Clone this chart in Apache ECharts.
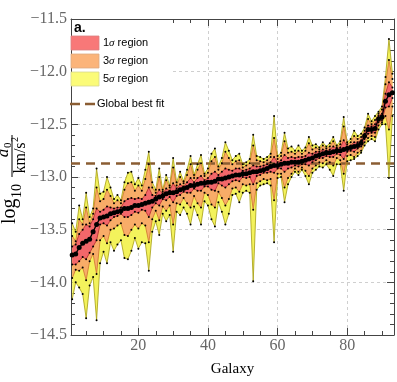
<!DOCTYPE html>
<html>
<head>
<meta charset="utf-8">
<script src="https://cdn.jsdelivr.net/npm/echarts@6/dist/echarts.min.js"></script>
<style>
  html, body { margin: 0; padding: 0; background: #fff; }
  #chart { width: 397px; height: 382px; }
</style>
</head>
<body>
<div id="chart"></div>
<script>
// best-fit a0 per galaxy (log10, km/s^2)
const center = [
  -13.74, -13.73, -13.67, -13.63, -13.61, -13.59, -13.52, -13.45, -13.39, -13.38,
  -13.37, -13.35, -13.34, -13.33, -13.32, -13.30, -13.30, -13.29, -13.27, -13.27,
  -13.26, -13.25, -13.24, -13.23, -13.21, -13.19, -13.18, -13.16, -13.15, -13.15,
  -13.14, -13.12, -13.11, -13.10, -13.08, -13.08, -13.07, -13.06, -13.06, -13.05,
  -13.05, -13.04, -13.02, -13.02, -13.01, -13.00, -12.99, -12.98, -12.98, -12.97,
  -12.97, -12.96, -12.95, -12.95, -12.94, -12.93, -12.92, -12.90, -12.89, -12.89,
  -12.88, -12.87, -12.87, -12.86, -12.86, -12.86, -12.85, -12.84, -12.83, -12.82,
  -12.80, -12.79, -12.78, -12.77, -12.77, -12.76, -12.75, -12.75, -12.74, -12.73,
  -12.72, -12.71, -12.70, -12.68, -12.61, -12.55, -12.55, -12.54, -12.45, -12.43,
  -12.28, -12.22, -12.20
]
// 5 sigma upper / lower
const hi5 = [
  -13.44, -13.52, -13.27, -13.40, -13.15, -13.38, -13.30, -12.92, -13.16, -13.14,
  -13.00, -13.10, -13.21, -13.17, -13.22, -13.05, -12.96, -12.95, -13.07, -13.01,
  -13.08, -12.93, -12.76, -13.05, -13.12, -12.92, -13.12, -12.98, -13.08, -12.82,
  -13.05, -12.95, -13.04, -12.93, -12.80, -12.98, -12.88, -12.79, -12.97, -12.92,
  -12.78, -12.73, -12.90, -12.82, -12.67, -12.75, -12.84, -12.80, -12.78, -12.88,
  -12.86, -12.83, -12.60, -12.80, -12.81, -12.83, -12.81, -12.78, -12.42, -12.80,
  -12.77, -12.58, -12.73, -12.71, -12.75, -12.70, -12.75, -12.72, -12.62, -12.70,
  -12.69, -12.72, -12.67, -12.71, -12.68, -12.62, -12.70, -12.66, -12.43, -12.67,
  -12.64, -12.56, -12.61, -12.59, -12.53, -12.40, -12.47, -12.42, -12.38, -12.33,
  -12.05, -11.69, -12.02
]
const lo5 = [
  -14.16, -14.00, -14.05, -14.11, -14.34, -14.03, -13.95, -14.36, -13.82, -13.71,
  -13.82, -13.62, -13.70, -13.64, -13.60, -13.77, -13.78, -13.70, -13.58, -13.68,
  -13.62, -13.63, -13.89, -13.52, -13.42, -13.55, -13.35, -13.42, -13.36, -13.71,
  -13.33, -13.36, -13.29, -13.35, -13.45, -13.28, -13.36, -13.45, -13.23, -13.27,
  -13.40, -13.47, -13.24, -13.33, -13.45, -13.35, -13.17, -13.16, -13.24, -13.15,
  -13.13, -13.15, -13.99, -13.12, -13.08, -13.07, -13.06, -13.08, -13.62, -13.01,
  -13.00, -13.24, -13.07, -13.00, -12.95, -12.98, -12.93, -12.99, -13.07, -12.96,
  -12.93, -12.90, -12.91, -12.88, -12.93, -12.99, -12.88, -12.88, -13.13, -12.85,
  -12.84, -12.83, -12.80, -12.77, -12.70, -12.66, -12.64, -12.66, -12.55, -12.50,
  -12.50, -13.01, -12.42
]
// 3 sigma upper / lower
const hi3 = [
  -13.56, -13.61, -13.40, -13.45, -13.29, -13.44, -13.35, -13.10, -13.23, -13.21,
  -13.12, -13.18, -13.25, -13.22, -13.25, -13.12, -13.06, -13.05, -13.13, -13.08,
  -13.13, -13.02, -12.88, -13.10, -13.15, -13.00, -13.14, -13.03, -13.10, -12.91,
  -13.08, -13.00, -13.06, -12.98, -12.88, -13.01, -12.93, -12.87, -12.99, -12.96,
  -12.85, -12.81, -12.93, -12.87, -12.76, -12.82, -12.88, -12.85, -12.84, -12.91,
  -12.89, -12.87, -12.70, -12.84, -12.85, -12.86, -12.84, -12.81, -12.63, -12.83,
  -12.80, -12.66, -12.77, -12.76, -12.78, -12.75, -12.78, -12.75, -12.68, -12.74,
  -12.72, -12.74, -12.70, -12.73, -12.71, -12.66, -12.72, -12.69, -12.52, -12.69,
  -12.67, -12.61, -12.64, -12.62, -12.56, -12.45, -12.50, -12.46, -12.40, -12.36,
  -12.12, -11.89, -12.07
]
const lo3 = [
  -13.96, -13.88, -13.89, -13.86, -13.98, -13.80, -13.73, -13.92, -13.60, -13.56,
  -13.63, -13.50, -13.49, -13.46, -13.44, -13.55, -13.56, -13.50, -13.45, -13.49,
  -13.44, -13.46, -13.62, -13.40, -13.32, -13.41, -13.28, -13.32, -13.27, -13.45,
  -13.25, -13.26, -13.20, -13.25, -13.29, -13.18, -13.25, -13.29, -13.15, -13.17,
  -13.26, -13.29, -13.14, -13.20, -13.27, -13.21, -13.11, -13.10, -13.14, -13.07,
  -13.08, -13.07, -13.31, -13.06, -13.04, -13.02, -13.03, -13.02, -13.22, -12.97,
  -12.97, -13.10, -13.01, -12.97, -12.92, -12.95, -12.91, -12.94, -12.99, -12.92,
  -12.89, -12.86, -12.87, -12.84, -12.86, -12.89, -12.82, -12.84, -12.97, -12.80,
  -12.79, -12.81, -12.77, -12.75, -12.67, -12.63, -12.61, -12.62, -12.51, -12.48,
  -12.42, -12.55, -12.33
]
// 1 sigma upper / lower
const hi1 = [
  -13.66, -13.64, -13.54, -13.50, -13.45, -13.47, -13.40, -13.30, -13.33, -13.31,
  -13.28, -13.29, -13.30, -13.29, -13.29, -13.23, -13.21, -13.20, -13.21, -13.20,
  -13.21, -13.17, -13.10, -13.17, -13.18, -13.12, -13.16, -13.11, -13.13, -13.06,
  -13.11, -13.07, -13.09, -13.05, -13.01, -13.05, -13.01, -12.99, -13.03, -13.01,
  -12.97, -12.95, -12.98, -12.95, -12.92, -12.93, -12.94, -12.92, -12.92, -12.94,
  -12.93, -12.92, -12.89, -12.90, -12.90, -12.89, -12.88, -12.86, -12.81, -12.86,
  -12.84, -12.79, -12.82, -12.81, -12.82, -12.81, -12.81, -12.80, -12.77, -12.78,
  -12.76, -12.76, -12.74, -12.75, -12.74, -12.71, -12.73, -12.72, -12.65, -12.71,
  -12.70, -12.67, -12.67, -12.65, -12.59, -12.51, -12.52, -12.50, -12.42, -12.40,
  -12.21, -12.10, -12.15
]
const lo1 = [
  -13.83, -13.83, -13.80, -13.76, -13.78, -13.72, -13.66, -13.60, -13.45, -13.44,
  -13.46, -13.41, -13.38, -13.37, -13.35, -13.38, -13.38, -13.36, -13.33, -13.34,
  -13.31, -13.32, -13.38, -13.29, -13.25, -13.27, -13.21, -13.22, -13.19, -13.24,
  -13.18, -13.17, -13.14, -13.15, -13.15, -13.11, -13.13, -13.13, -13.09, -13.09,
  -13.12, -13.13, -13.06, -13.08, -13.10, -13.07, -13.04, -13.03, -13.04, -13.00,
  -13.01, -13.00, -13.07, -12.99, -12.98, -12.96, -12.96, -12.95, -12.96, -12.92,
  -12.92, -12.95, -12.92, -12.91, -12.89, -12.90, -12.88, -12.88, -12.89, -12.86,
  -12.84, -12.82, -12.82, -12.80, -12.81, -12.81, -12.78, -12.79, -12.83, -12.76,
  -12.75, -12.76, -12.73, -12.71, -12.64, -12.59, -12.58, -12.58, -12.48, -12.46,
  -12.34, -12.33, -12.25
]
const globalBestFit = -12.865

const xMajorTicks = [20, 40, 60, 80]
const xMinorTicks = [5, 10, 15, 20, 25, 30, 35, 40, 45, 50, 55, 60, 65, 70, 75, 80, 85, 90]
const xMin = 0.65
const xMax = 93.45

const serif = '"Liberation Serif", "DejaVu Serif", serif'
const sans = '"Liberation Sans", Arial, sans-serif'

const galaxy = center.map((_, i) => i + 1)
const pts = (arr) => arr.map((v, i) => [galaxy[i], v])

const YELLOW = '#f3f25c'
const ORANGE = '#f8ac68'
const RED = '#f2676a'
const YELLOW_EDGE = '#a59d12'
const ORANGE_EDGE = '#cf7430'
const RED_EDGE = '#b32a2a'

// filled region between two boundaries, one polygon through the axis scales
const region = (name, upper, lower, fill, z) => ({
  type: 'custom',
  name,
  silent: true,
  z,
  data: [[galaxy[0], center[0]]],
  renderItem: (params, api) => {
    const top = upper.map((v, i) => api.coord([galaxy[i], v]))
    const bottom = lower.map((v, i) => api.coord([galaxy[i], v])).reverse()
    return {
      type: 'polygon',
      shape: { points: top.concat(bottom) },
      style: { fill, stroke: null }
    }
  }
})

// boundary line with the small black vertex dots
const edge = (name, arr, color) => ({
  type: 'line',
  name,
  data: pts(arr),
  silent: true,
  z: 5,
  symbol: 'circle',
  symbolSize: 2,
  itemStyle: { color: '#000' },
  lineStyle: { color, width: 0.8 }
})

const chart = echarts.init(document.getElementById('chart'))

const minorAxis = (position, customValues) => ({
  type: 'value', min: xMin, max: xMax, position,
  axisLine: { show: false, onZero: false },
  axisTick: { inside: true, length: 4, customValues, lineStyle: { color: '#444' } },
  axisLabel: { show: false },
  splitLine: { show: false }
})

const option = {
  animation: false,
  grid: { left: 71, right: 3, top: 19, bottom: 37, containLabel: false },
  xAxis: [
    {
      type: 'value', min: xMin, max: xMax, position: 'bottom',
      name: 'Galaxy', nameLocation: 'middle', nameGap: 27,
      nameTextStyle: { fontFamily: serif, fontSize: 15, color: '#000' },
      axisLine: { show: true, onZero: false, lineStyle: { color: '#444' } },
      axisTick: { inside: true, length: 7, customValues: xMajorTicks, lineStyle: { color: '#444' } },
      axisLabel: { customValues: xMajorTicks, fontFamily: serif, fontSize: 16, color: '#666', margin: 3 },
      splitLine: { show: true, lineStyle: { color: '#cfcfcf', type: [3, 3], width: 1 } }
    },
    minorAxis('bottom', xMinorTicks),
    {
      type: 'value', min: xMin, max: xMax, position: 'top',
      axisLine: { show: true, onZero: false, lineStyle: { color: '#444' } },
      axisTick: { inside: true, length: 7, customValues: xMajorTicks, lineStyle: { color: '#444' } },
      axisLabel: { show: false },
      splitLine: { show: false }
    },
    minorAxis('top', xMinorTicks)
  ],
  yAxis: [
    {
      type: 'value', min: -14.5, max: -11.5, interval: 0.5, position: 'left',
      axisLine: { show: true, onZero: false, lineStyle: { color: '#444' } },
      axisTick: { inside: true, length: 7, lineStyle: { color: '#444' } },
      minorTick: { show: true, splitNumber: 5, length: 4, lineStyle: { color: '#444' } },
      axisLabel: {
        fontFamily: serif, fontSize: 16, color: '#666', margin: 4,
        showMinLabel: true, showMaxLabel: true,
        formatter: (v) => v.toFixed(1).replace('-', '\u2212')
      },
      splitLine: { show: true, lineStyle: { color: '#cfcfcf', type: [3, 3], width: 1 } }
    },
    {
      type: 'value', min: -14.5, max: -11.5, interval: 0.5, position: 'right',
      axisLine: { show: true, onZero: false, lineStyle: { color: '#444' } },
      axisTick: { inside: true, length: 7, lineStyle: { color: '#444' } },
      minorTick: { show: true, splitNumber: 5, length: 4, lineStyle: { color: '#444' } },
      axisLabel: { show: false },
      splitLine: { show: false }
    }
  ],
  series: [
    region('5σ region', hi5, lo5, YELLOW, 1),
    region('3σ region', hi3, lo3, ORANGE, 2),
    region('1σ region', hi1, lo1, RED, 3),
    edge('lo5', lo5, YELLOW_EDGE),
    edge('hi5', hi5, YELLOW_EDGE),
    edge('lo3', lo3, ORANGE_EDGE),
    edge('hi3', hi3, ORANGE_EDGE),
    edge('lo1', lo1, RED_EDGE),
    edge('hi1', hi1, RED_EDGE),
    {
      type: 'line', name: 'Global best fit', data: [], silent: true, z: 6,
      markLine: {
        silent: true, symbol: 'none', label: { show: false },
        lineStyle: { color: '#8a5d33', width: 2.5, type: [9, 6] },
        data: [{ yAxis: globalBestFit }]
      }
    },
    {
      type: 'line', name: 'best fit', data: pts(center), z: 7, silent: true,
      symbol: 'circle', symbolSize: 5,
      itemStyle: { color: '#000' },
      lineStyle: { color: '#000', width: 1.3 }
    }
  ],
  graphic: [
    // legend background
    { type: 'rect', shape: { x: 72, y: 20, width: 98, height: 97 }, style: { fill: '#fff' }, z: 10, silent: true },
    { type: 'text', x: 74, y: 28, z: 11, style: { text: 'a.', font: 'bold 14px ' + sans, fill: '#000', verticalAlign: 'middle' } },
    { type: 'rect', shape: { x: 71, y: 36, width: 28, height: 14 }, style: { fill: '#f87878', stroke: '#d98080', lineWidth: 0.8 }, z: 11 },
    { type: 'rect', shape: { x: 71, y: 54, width: 28, height: 14 }, style: { fill: '#fbb47a', stroke: '#ddaa80', lineWidth: 0.8 }, z: 11 },
    { type: 'rect', shape: { x: 71, y: 72, width: 28, height: 14 }, style: { fill: '#fbfb78', stroke: '#d8d890', lineWidth: 0.8 }, z: 11 },
    {
      type: 'text', x: 103, y: 43, z: 11,
      style: { text: '1{i|σ} region', fontSize: 11, fontFamily: sans, fill: '#000', verticalAlign: 'middle',
        rich: { i: { fontStyle: 'italic', fontSize: 11, fontFamily: serif } } }
    },
    {
      type: 'text', x: 103, y: 61, z: 11,
      style: { text: '3{i|σ} region', fontSize: 11, fontFamily: sans, fill: '#000', verticalAlign: 'middle',
        rich: { i: { fontStyle: 'italic', fontSize: 11, fontFamily: serif } } }
    },
    {
      type: 'text', x: 103, y: 79, z: 11,
      style: { text: '5{i|σ} region', fontSize: 11, fontFamily: sans, fill: '#000', verticalAlign: 'middle',
        rich: { i: { fontStyle: 'italic', fontSize: 11, fontFamily: serif } } }
    },
    { type: 'line', shape: { x1: 70, y1: 104, x2: 95, y2: 104 }, z: 11,
      style: { stroke: '#8a5d33', lineWidth: 2.5, lineDash: [10, 5] } },
    { type: 'text', x: 97, y: 104, z: 11, style: { text: 'Global best fit', fontSize: 11, fontFamily: sans, fill: '#000', verticalAlign: 'middle' } },
    // y axis title: log10 (a0 / km/s^2), rotated
    {
      type: 'group', x: 12, y: 178, rotation: Math.PI / 2, z: 11,
      children: [
        { type: 'text', x: -46, y: -2, style: { text: 'log', font: '20px ' + serif, fill: '#000', align: 'left', verticalAlign: 'middle' } },
        { type: 'text', x: -20, y: 5, style: { text: '10', font: '14px ' + serif, fill: '#000', align: 'left', verticalAlign: 'middle' } },
        { type: 'line', shape: { x1: 1, y1: 0, x2: 43, y2: 0 }, style: { stroke: '#000', lineWidth: 1 } },
        { type: 'text', x: 25, y: -8, style: { text: 'a', font: 'italic 17px ' + serif, fill: '#000', align: 'center', verticalAlign: 'middle' } },
        { type: 'text', x: 30, y: -4, style: { text: '0', font: '11px ' + serif, fill: '#000', align: 'left', verticalAlign: 'middle' } },
        { type: 'text', x: 20, y: 9, style: { text: 'km/s', font: '16px ' + serif, fill: '#000', align: 'center', verticalAlign: 'middle' } },
        { type: 'text', x: 36, y: 3, style: { text: '2', font: '10px ' + serif, fill: '#000', align: 'left', verticalAlign: 'middle' } }
      ]
    }
  ]
}

chart.setOption(option)
</script>
</body>
</html>
